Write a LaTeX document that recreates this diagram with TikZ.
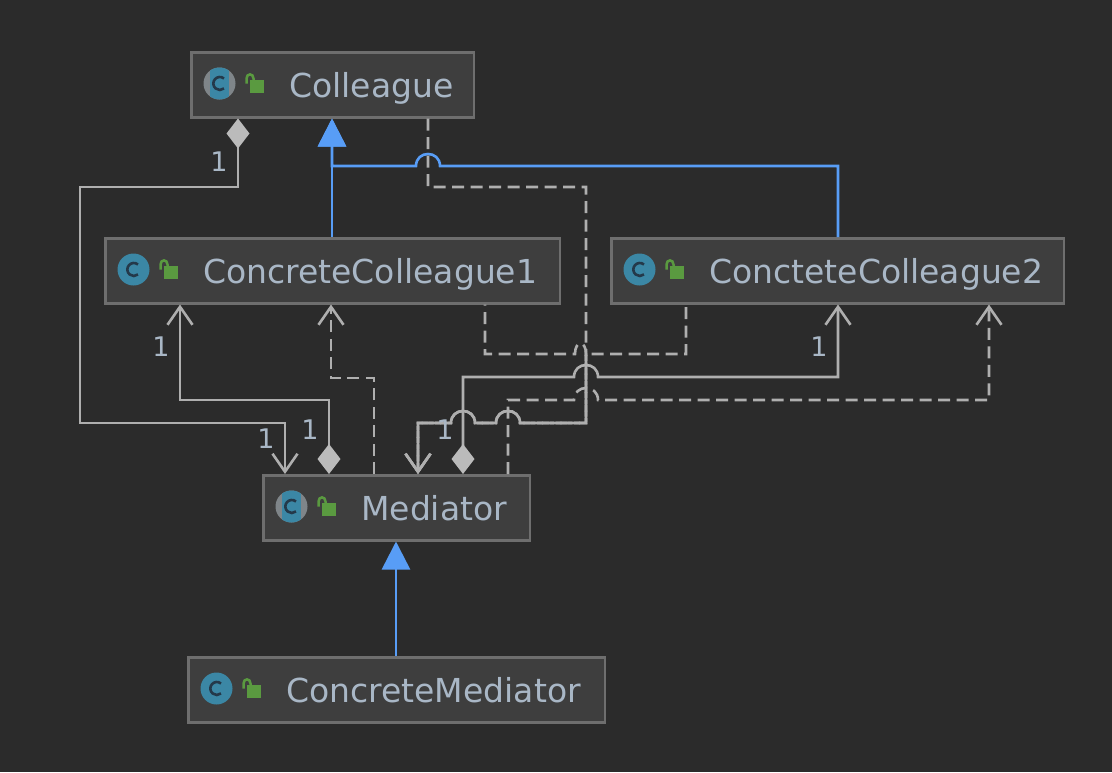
\documentclass[tikz,border=0pt]{standalone}
\usepackage{fontspec}
\setmainfont{DejaVu Sans}
\usetikzlibrary{arrows.meta}
\definecolor{bgc}{HTML}{2B2B2B}
\definecolor{boxc}{HTML}{3E3E3E}
\definecolor{edgec}{HTML}{6E6E6E}
\definecolor{txtc}{HTML}{A9B7C6}
\definecolor{linec}{HTML}{AFAFAF}
\definecolor{diac}{HTML}{BBBBBB}
\definecolor{bluec}{HTML}{589DF6}
\definecolor{tealc}{HTML}{3B87A5}
\definecolor{grayc}{HTML}{7F8589}
\definecolor{cdark}{HTML}{24394A}
\definecolor{lockc}{HTML}{5A9A40}
\tikzset{
  cls/.style={draw=edgec,fill=boxc,line width=2.5pt,anchor=north west,minimum height=65pt,inner sep=0pt,text=txtc,font=\fontsize{33}{40}\selectfont},
  mult/.style={text=txtc,font=\fontsize{27}{32}\selectfont,inner sep=0pt},
  rel/.style={draw=linec,line width=2.6pt,line join=miter},
  dep/.style={rel,dash pattern=on 12pt off 6.5pt},
  inh/.style={draw=bluec,line width=2.6pt,-{Triangle[length=28pt,width=28pt,fill=bluec]}},
  openend/.style={-{Straight Barb[length=18pt,width=25pt,line width=2.6pt]}},
  comp/.style={{Diamond[length=30pt,width=23pt,fill=diac,color=diac]}-{Straight Barb[length=18pt,width=25pt,line width=2.6pt]}}
}
% hop over a crossing line: x, y, direction (1 rightward, -1 leftward)
\newcommand{\hop}[3]{-- ({#1-12*(#3)},#2) .. controls ({#1-12*(#3)},{#2-16}) and ({#1+12*(#3)},{#2-16}) .. ({#1+12*(#3)},#2)}
\newcommand{\clsname}[2]{\makebox[#1pt][l]{\hspace*{98pt}\rule[-9pt]{0pt}{42.5pt}#2}}
\newcommand{\lockicon}{%
  \fill[lockc] (58,27.5) rectangle (72.5,40);
  \draw[lockc,line width=2.5pt] (55,31) -- (55,26) .. controls (55,20.5) and (62,20.5) .. (62,26) -- (62,29);}
\newcommand{\plainicon}[2]{%
  \begin{scope}[shift={([xshift=1.5pt,yshift=-1.5pt]#1.north west)}]
    \fill[tealc] (28,#2) circle (16pt);
    \draw[cdark,line width=2.6pt] (32.5,{#2-5}) arc[start angle=50,end angle=310,radius=6.5pt];
    \lockicon
  \end{scope}}
\newcommand{\absicon}[2]{%
  \begin{scope}[shift={([xshift=1.5pt,yshift=-1.5pt]#1.north west)}]
    \begin{scope}
      \clip (28,#2) circle (16pt);
      \fill[grayc] (11,{#2-17}) rectangle (45,{#2+17});
      \fill[tealc] (18.5,{#2-17}) rectangle (37.5,{#2+17});
    \end{scope}
    \draw[cdark,line width=2.6pt] (32.5,{#2-5}) arc[start angle=50,end angle=310,radius=6.5pt];
    \lockicon
  \end{scope}}
\begin{document}
\begin{tikzpicture}[x=1pt,y=-1pt]
\useasboundingbox (0,0) rectangle (1112,772);
\fill[bgc] (0,0) rectangle (1112,772);

\node[cls,minimum width=282.5pt] (colleague) at (190,51) {\clsname{282.5}{Colleague}};
\node[cls,minimum width=454.5pt] (cc1) at (104,237) {\clsname{454.5}{ConcreteColleague1}};
\node[cls,minimum width=452.5pt] (cc2) at (610,237) {\clsname{452.5}{ConcteteColleague2}};
\node[cls,minimum width=266.5pt] (mediator) at (262,474) {\clsname{266.5}{Mediator}};
\node[cls,minimum width=416.5pt] (cmed) at (187,656) {\clsname{416.5}{ConcreteMediator}};

\absicon{colleague}{31}
\plainicon{cc1}{31}
\plainicon{cc2}{31}
\absicon{mediator}{31}
\plainicon{cmed}{31}

\foreach \cx in {180,238,285,329,331,332,374,396,418,428,463,485,508,686,838,989}
  \coordinate (x\cx) at (\cx,0);

% inheritance
\draw[inh] (x332 |- cc1.north) -- (x332 |- colleague.south);
\draw[inh] (x396 |- cmed.north) -- (x396 |- mediator.south);
\draw[inh] (x838 |- cc2.north) -- (838,166) \hop{428}{166}{-1} -- (332,166) -- (x332 |- colleague.south);

% Colleague -> Mediator (composition)
\draw[rel,comp] (x238 |- colleague.south) -- (238,187) -- (80,187) -- (80,423) -- (285,423) -- (x285 |- mediator.north);
% Mediator -> ConcreteColleague1 (composition)
\draw[rel,comp] (x329 |- mediator.north) -- (329,400) -- (180,400) -- (x180 |- cc1.south);
% Mediator -> ConcteteColleague2 (composition)
\draw[rel,comp] (x463 |- mediator.north) -- (463,377) \hop{586}{377}{1} -- (838,377) -- (x838 |- cc2.south);

% dependencies from Mediator
\draw[dep,openend] (x374 |- mediator.north) -- (374,378) -- (331,378) -- (x331 |- cc1.south);
\draw[dep,openend] (x508 |- mediator.north) -- (508,400) \hop{586}{400}{1} -- (989,400) -- (x989 |- cc2.south);

% dependencies to Mediator
\draw[dep,openend] (x428 |- colleague.south) -- (428,187) -- (586,187) -- (586,423) \hop{508}{423}{-1} \hop{463}{423}{-1} -- (418,423) -- (x418 |- mediator.north);
\draw[dep,dash phase=11pt,openend] (x485 |- cc1.south) -- (485,354) -- (575,354) .. controls (575,340) and (586,340) .. (586,354) -- (586,423) \hop{508}{423}{-1} \hop{463}{423}{-1} -- (418,423) -- (x418 |- mediator.north);
\draw[dep,dash phase=16pt,openend] (x686 |- cc2.south) -- (686,354) -- (586,354) -- (586,423) \hop{508}{423}{-1} \hop{463}{423}{-1} -- (418,423) -- (x418 |- mediator.north);

% multiplicities
\node[mult] (m1) at (219,162) {1};
\node[mult] (m2) at (266,439) {1};
\node[mult] (m3) at (310,430) {1};
\node[mult] (m4) at (161,347) {1};
\node[mult] (m5) at (445,430) {1};
\node[mult] (m6) at (819,347) {1};
\end{tikzpicture}
\end{document}
